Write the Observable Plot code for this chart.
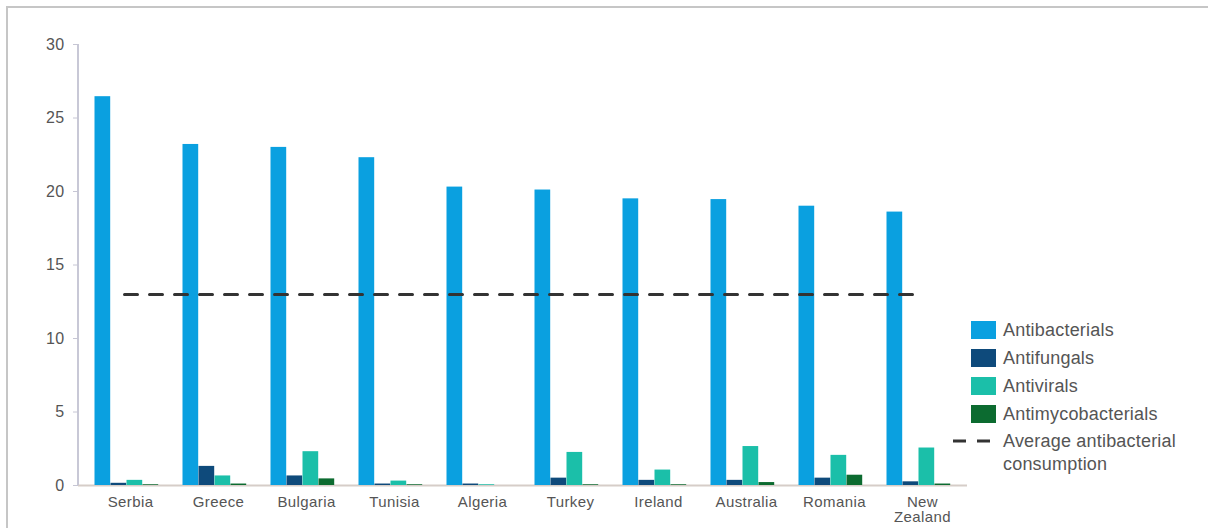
<!DOCTYPE html>
<html>
<head>
<meta charset="utf-8">
<script src="https://cdn.jsdelivr.net/npm/d3@7"></script>
<script src="https://cdn.jsdelivr.net/npm/@observablehq/plot@0.6"></script>
<style>
  html, body { margin: 0; padding: 0; background: #fff; }
  body { width: 1208px; height: 528px; position: relative; overflow: hidden;
         font-family: "Liberation Sans", Arial, sans-serif; }
  #frame { position: absolute; left: 6px; top: 6px; width: 1220px; height: 560px;
           border-top: 2px solid #c6c6c6; border-left: 2px solid #c6c6c6; box-sizing: border-box; }
  #chart { position: absolute; left: 0; top: 0; }
  #legend { position: absolute; left: 952px; top: 316px; color: #555; font-size: 18px; letter-spacing: 0.2px; }
  .row { position: relative; height: 28px; display: flex; align-items: center; }
  .sw { width: 25px; height: 18px; margin-left: 19px; margin-right: 7px; }
  .txt { line-height: 23px; }
</style>
</head>
<body>
<div id="frame"></div>
<div id="chart"></div>
<div id="legend"></div>
<script>
const countries = ["Serbia","Greece","Bulgaria","Tunisia","Algeria","Turkey","Ireland","Australia","Romania","New Zealand"];
const seriesNames = ["Antibacterials","Antifungals","Antivirals","Antimycobacterials"];
const antibacterials = [26.45, 23.2, 23.0, 22.3, 20.3, 20.1, 19.5, 19.45, 19.0, 18.6];
const antifungals    = [0.15, 1.3, 0.65, 0.1, 0.1, 0.5, 0.35, 0.35, 0.5, 0.25];
const antivirals     = [0.35, 0.65, 2.3, 0.3, 0.05, 2.25, 1.05, 2.65, 2.05, 2.55];
const antimyco       = [0.05, 0.1, 0.45, 0.05, 0.0, 0.05, 0.05, 0.2, 0.7, 0.1];
const averageAntibacterial = 13.0;
const yTicks = [0, 5, 10, 15, 20, 25, 30];
const averageLabel = "Average antibacterial consumption";
const colors = ["#0aa0e0", "#0e4a7b", "#1bbfa9", "#0c6b30"];

const seriesValues = [antibacterials, antifungals, antivirals, antimyco];
const rows = countries.flatMap((c, i) => seriesNames.map((s, j) => ({country: c, series: s, value: seriesValues[j][i]})));
const avgRows = countries.map(c => ({country: c, value: averageAntibacterial}));

const W = 1208, H = 528;
const xLeft = 84, xRight = 967;
const step = (xRight - xLeft) / countries.length;
const barW = 16, groupOffset = 8.5;

const barMarks = seriesNames.map((s, j) => Plot.barY(rows.filter(d => d.series === s), {
  x: "country", y: "value", fill: "series",
  insetLeft: groupOffset + barW * j,
  insetRight: step - (groupOffset + barW * (j + 1))
}));

// y-axis line drawn from the y scale's extent along the left margin
const yAxisLine = (index, scales, values, dimensions) => {
  const [y0, y1] = scales.scales.y.domain;
  const line = document.createElementNS("http://www.w3.org/2000/svg", "line");
  const x = dimensions.marginLeft;
  line.setAttribute("x1", x); line.setAttribute("x2", x);
  line.setAttribute("y1", scales.y(y0)); line.setAttribute("y2", scales.y(y1));
  line.setAttribute("stroke", "#c8c8d6"); line.setAttribute("stroke-width", 2);
  return line;
};

const chart = Plot.plot({
  width: W, height: H,
  marginLeft: 78, marginRight: W - xRight, marginTop: 44, marginBottom: 43,
  style: {fontFamily: "'Liberation Sans', Arial, sans-serif", background: "transparent"},
  x: {domain: countries, range: [xLeft, xRight], padding: 0, axis: null},
  y: {domain: [0, 30], axis: null},
  color: {domain: seriesNames, range: colors},
  marks: [
    Plot.ruleY([0], {stroke: "#d6cdc8", strokeWidth: 2}),
    yAxisLine,
    Plot.axisY({ticks: yTicks, tickSize: 5, tickPadding: 9, stroke: "#c6c6d4", fill: "#555", fontSize: 16, label: null, tickFormat: d => String(d)}),
    Plot.axisX({tickSize: 0, tickPadding: 11, fill: "#555", fontSize: 15, label: null,
                tickFormat: d => d === "New Zealand" ? "New\nZealand" : d}),
    ...barMarks,
    Plot.lineY(avgRows, {x: "country", y: "value", stroke: "#333", strokeWidth: 3, strokeDasharray: "13,12", dx: -6})
  ]
});
chart.querySelectorAll("text").forEach(t => t.style.letterSpacing = "0.4px");
document.getElementById("chart").appendChild(chart);

const legend = document.getElementById("legend");
seriesNames.forEach((s, j) => {
  const r = document.createElement("div");
  r.className = "row";
  r.innerHTML = `<div class="sw" style="background:${colors[j]}"></div><div class="txt">${s}</div>`;
  legend.appendChild(r);
});
const ar = document.createElement("div");
ar.className = "row";
ar.style.alignItems = "flex-start";
ar.style.marginTop = "2px";
ar.innerHTML = `<svg width="44" height="22" style="flex:none;margin-right:7px"><line x1="1" x2="38" y1="11" y2="11" stroke="#333" stroke-width="3" stroke-dasharray="13,11"/></svg><div class="txt" style="width:200px">${averageLabel.replace(" consumption", "<br>consumption")}</div>`;
legend.appendChild(ar);
</script>
</body>
</html>
